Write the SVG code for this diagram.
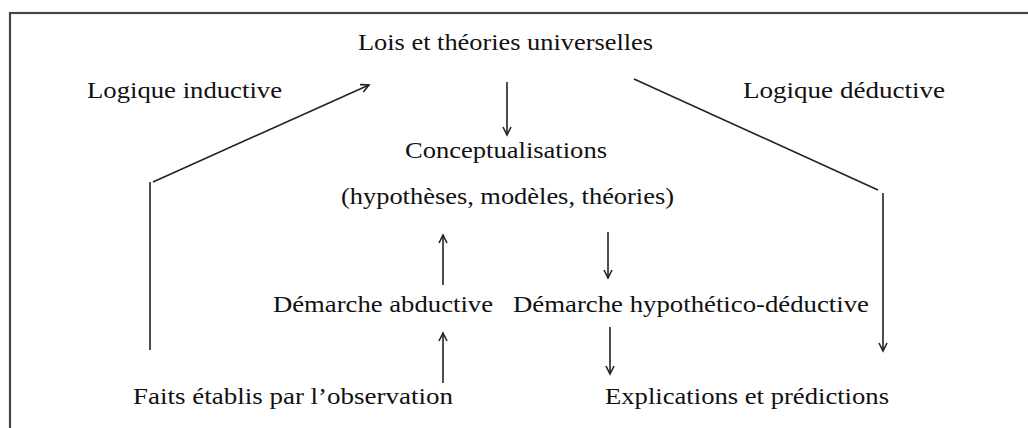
<svg xmlns="http://www.w3.org/2000/svg" width="1028" height="428" viewBox="0 0 1028 428">
<style>
.t{font-family:"Liberation Serif","Times New Roman",serif;font-size:24px;fill:#111;}
.c{stroke:#222;stroke-width:1.6;fill:none;}
</style>
<defs>
<marker id="ah" markerUnits="userSpaceOnUse" markerWidth="12" markerHeight="12" refX="8" refY="4" orient="auto" overflow="visible">
<path d="M0,0 L8,4 L0,8" fill="none" stroke="#222" stroke-width="1.6"/>
</marker>
</defs>
<rect x="10" y="13" width="1040" height="440" fill="#fff" stroke="#444" stroke-width="2.2"/>
<g id="lois"><text class="t" x="358" y="50" textLength="295" lengthAdjust="spacingAndGlyphs">Lois et théories universelles</text></g>
<g id="logique-inductive"><text class="t" x="87" y="98" textLength="195" lengthAdjust="spacingAndGlyphs">Logique inductive</text></g>
<g id="logique-deductive"><text class="t" x="743" y="98" textLength="202" lengthAdjust="spacingAndGlyphs">Logique déductive</text></g>
<g id="conceptualisations"><text class="t" x="405" y="158" textLength="202" lengthAdjust="spacingAndGlyphs">Conceptualisations</text></g>
<g id="hypotheses"><text class="t" x="341" y="204" textLength="333" lengthAdjust="spacingAndGlyphs">(hypothèses, modèles, théories)</text></g>
<g id="abductive"><text class="t" x="273" y="312" textLength="220" lengthAdjust="spacingAndGlyphs">Démarche abductive</text></g>
<g id="hypothetico"><text class="t" x="513" y="312" textLength="356" lengthAdjust="spacingAndGlyphs">Démarche hypothético-déductive</text></g>
<g id="faits"><text class="t" x="133" y="404" textLength="320" lengthAdjust="spacingAndGlyphs">Faits établis par l’observation</text></g>
<g id="explications"><text class="t" x="605" y="404" textLength="284" lengthAdjust="spacingAndGlyphs">Explications et prédictions</text></g>
<g id="connectors">
<line class="c" x1="150" y1="350" x2="150" y2="182"/>
<line class="c" x1="153" y1="182" x2="369" y2="85" marker-end="url(#ah)"/>
<line class="c" x1="634" y1="79" x2="878" y2="190"/>
<line class="c" x1="883" y1="193" x2="883" y2="351" marker-end="url(#ah)"/>
<line class="c" x1="507" y1="82" x2="507" y2="135" marker-end="url(#ah)"/>
<line class="c" x1="443" y1="285" x2="443" y2="235" marker-end="url(#ah)"/>
<line class="c" x1="443" y1="383" x2="443" y2="333" marker-end="url(#ah)"/>
<line class="c" x1="608" y1="232" x2="608" y2="278" marker-end="url(#ah)"/>
<line class="c" x1="610" y1="327" x2="610" y2="374" marker-end="url(#ah)"/>
</g>
</svg>
